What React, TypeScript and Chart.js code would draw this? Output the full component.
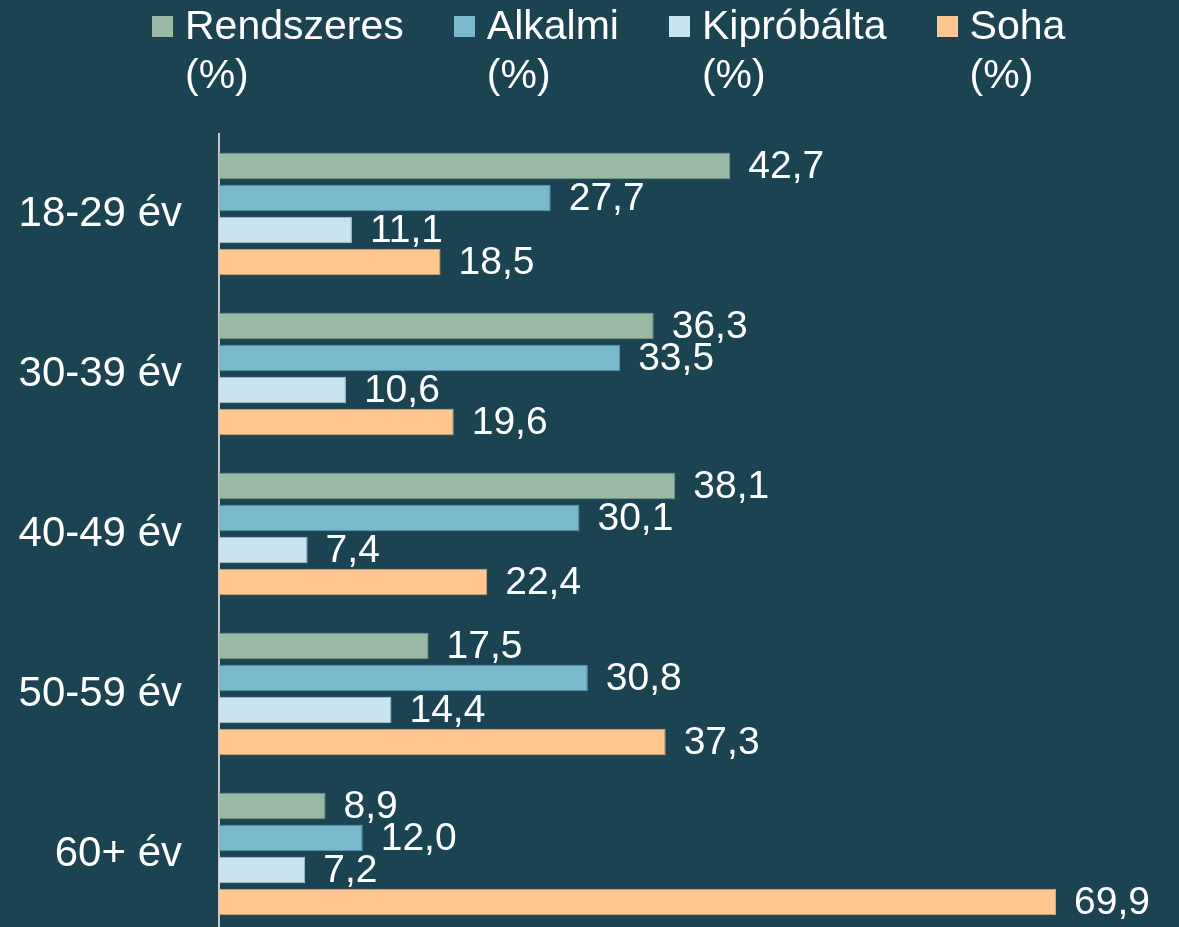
import React, { useEffect, useRef } from "react";
import { Chart, registerables } from "chart.js";

Chart.register(...registerables);

const categories = ["18-29 év", "30-39 év", "40-49 év", "50-59 év", "60+ év"];
const seriesNames = [
  ["Rendszeres", "(%)"],
  ["Alkalmi", "(%)"],
  ["Kipróbálta", "(%)"],
  ["Soha", "(%)"],
];
const rendszeres = [42.7, 36.3, 38.1, 17.5, 8.9];
const alkalmi = [27.7, 33.5, 30.1, 30.8, 12.0];
const kiprobalta = [11.1, 10.6, 7.4, 14.4, 7.2];
const soha = [18.5, 19.6, 22.4, 37.3, 69.9];
const seriesColors = ["#9bb8a4", "#78b9cb", "#c8e4ee", "#ffc68f"];
const borderColors = ["#7e9c8a", "#5e9bae", "#a9c6d2", "#d9a878"];
const BG = "#1c4352";
const FONT = "'Liberation Sans', Arial, sans-serif";

const valueLabels = {
  id: "valueLabels",
  afterDatasetsDraw(chart: any) {
    const ctx = chart.ctx;
    ctx.save();
    ctx.font = `39px ${FONT}`;
    ctx.fillStyle = "#ffffff";
    ctx.textAlign = "left";
    ctx.textBaseline = "middle";
    chart.data.datasets.forEach((ds: any, di: number) => {
      const meta = chart.getDatasetMeta(di);
      meta.data.forEach((el: any, i: number) => {
        const v = ds.data[i] as number;
        const txt = v.toFixed(1).replace(".", ",");
        ctx.fillText(txt, el.x + 18, el.y + 1);
      });
    });
    ctx.restore();
  },
};

export default function App() {
  const ref = useRef<HTMLCanvasElement>(null);

  useEffect(() => {
    if (!ref.current) return;
    const data = [rendszeres, alkalmi, kiprobalta, soha];
    const chart = new Chart(ref.current, {
      type: "bar",
      data: {
        labels: categories,
        datasets: data.map((d, i) => ({
          label: seriesNames[i].join(" "),
          data: d,
          backgroundColor: seriesColors[i],
          borderColor: borderColors[i],
          borderWidth: 1,
          categoryPercentage: 0.8,
          barPercentage: 0.83,
        })),
      },
      options: {
        indexAxis: "y",
        responsive: true,
        maintainAspectRatio: false,
        animation: false,
        layout: { padding: { top: 134, bottom: 6, left: 0, right: 2 } },
        plugins: {
          legend: { display: false },
          tooltip: { enabled: false },
        },
        scales: {
          x: {
            display: false,
            min: 0,
            max: 80,
          },
          y: {
            grid: { display: false, drawTicks: false },
            border: { display: true, color: "#c8c8c8", width: 2 },
            ticks: {
              color: "#ffffff",
              font: { family: FONT, size: 42 },
              padding: 37,
            },
            afterFit: (scale: any) => {
              scale.width = 219;
              scale.paddingTop = 0;
              scale.paddingBottom = 0;
            },
          },
        },
      },
      plugins: [valueLabels],
    });
    return () => chart.destroy();
  }, []);

  return (
    <div
      style={{
        position: "fixed",
        inset: 0,
        background: BG,
        overflow: "hidden",
        fontFamily: FONT,
      }}
    >
      <div
        style={{
          position: "absolute",
          top: 1,
          left: 152,
          display: "flex",
          gap: 50,
          color: "#ffffff",
          fontSize: 41,
          lineHeight: "49px",
          zIndex: 2,
        }}
      >
        {seriesNames.map((n, i) => (
          <div key={i} style={{ display: "flex", alignItems: "flex-start" }}>
            <div
              style={{
                width: 21,
                height: 21,
                marginTop: 15,
                marginRight: 12,
                background: seriesColors[i],
              }}
            />
            <div>
              {n.map((line, j) => (
                <div key={j}>{line}</div>
              ))}
            </div>
          </div>
        ))}
      </div>
      <div style={{ position: "absolute", top: 0, left: 0, width: 1179, height: 940 }}>
        <canvas ref={ref} />
      </div>
    </div>
  );
}
